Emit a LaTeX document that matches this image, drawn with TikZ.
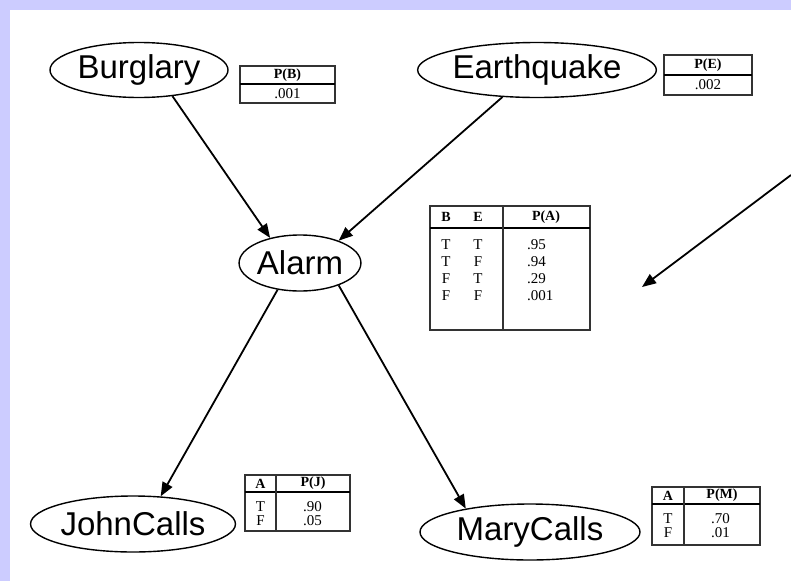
\documentclass[tikz,border=0pt]{standalone}
\usepackage{fontspec}
\setmainfont{Liberation Serif}
\newfontfamily\labelfont{Liberation Sans}
\usetikzlibrary{shapes.geometric,arrows.meta}
\definecolor{framecol}{HTML}{CCCCFF}
\begin{document}
\begin{tikzpicture}[x=1pt,y=-1pt,
  var/.style={ellipse, draw, line width=1.4pt, inner sep=0pt,
              font=\labelfont\fontsize{33}{33}\selectfont},
  link/.style={-{Triangle[length=14pt,width=11pt]}, line width=1.8pt},
  cpt/.style={draw=black!80, line width=1.2pt},
  hrule/.style={line width=2.4pt},
  head/.style={font=\bfseries\fontsize{14}{14}\selectfont, inner sep=0pt},
  val/.style={font=\fontsize{15}{15}\selectfont, inner sep=0pt}]
\useasboundingbox (0,0) rectangle (791,581);
\fill[white] (0,0) rectangle (791,581);
\fill[framecol] (0,0) rectangle (791,10);
\fill[framecol] (0,0) rectangle (10,581);

% variables
\node[var, minimum width=178pt, minimum height=55pt] (B) at (139,70) {Burglary};
\node[var, minimum width=214pt, minimum height=55pt] (E) at (537,70) {Earthquake};
\node[var, minimum width=112pt, minimum height=56pt] (A) at (300,263) {Alarm};
\node[var, minimum width=196pt, minimum height=56pt] (J) at (133,524) {JohnCalls};
\node[var, minimum width=220pt, minimum height=56pt] (M) at (530,532) {MaryCalls};

% links
\draw[link] (B.-38) -- (A.140);
\draw[link] (E.218) -- (A.30);
\draw[link] (A.230) -- (J.45);
\draw[link] (A.-30) -- (M.160);

% pointer to the alarm table
\coordinate (edge) at (791,175);
\coordinate (tipA) at (642,287);
\draw[link] (edge) -- (tipA);

% P(B)
\draw[cpt] (240,66) rectangle (335,103);
\draw[hrule] (240,84) -- (335,84);
\node[head] (pbh) at (287.5,75) {P(B)};
\node[val] (pbv) at (287.5,94) {.001};

% P(E)
\draw[cpt] (664,55) rectangle (752,95);
\draw[hrule] (664,75) -- (752,75);
\node[head] (peh) at (708,65) {P(E)};
\node[val] (pev) at (708,85) {.002};

% P(A | B, E)
\draw[cpt] (430,206) rectangle (590,330);
\draw[hrule] (430,228) -- (590,228);
\draw[cpt] (503,206) -- (503,330);
\node[head] (pah1) at (446,217) {B};
\node[head] (pah2) at (478,217) {E};
\node[head] (pah3) at (546,217) {P(A)};
\foreach \b/\e/\p [count=\i] in {T/T/.95, T/F/.94, F/T/.29, F/F/.001}{
  \node[val] (pab\i) at (446,228+17*\i) {\b};
  \node[val] (pae\i) at (478,228+17*\i) {\e};
  \node[val, anchor=west] (pap\i) at (527,228+17*\i) {\p};
}

% P(J | A)
\draw[cpt] (245,475) rectangle (350,531);
\draw[hrule] (245,492) -- (350,492);
\draw[cpt] (276,475) -- (276,531);
\node[head] (pjh1) at (260.5,483.5) {A};
\node[head] (pjh2) at (313,483.5) {P(J)};
\node[val] (pja1) at (260.5,507) {T};
\node[val] (pja2) at (260.5,521) {F};
\node[val, anchor=west] (pjv1) at (303,507) {.90};
\node[val, anchor=west] (pjv2) at (303,521) {.05};

% P(M | A)
\draw[cpt] (652,487) rectangle (760,545);
\draw[hrule] (652,504) -- (760,504);
\draw[cpt] (684,487) -- (684,545);
\node[head] (pmh1) at (668,495.5) {A};
\node[head] (pmh2) at (722,495.5) {P(M)};
\node[val] (pma1) at (668,519) {T};
\node[val] (pma2) at (668,533) {F};
\node[val, anchor=west] (pmv1) at (711,519) {.70};
\node[val, anchor=west] (pmv2) at (711,533) {.01};
\end{tikzpicture}
\end{document}
